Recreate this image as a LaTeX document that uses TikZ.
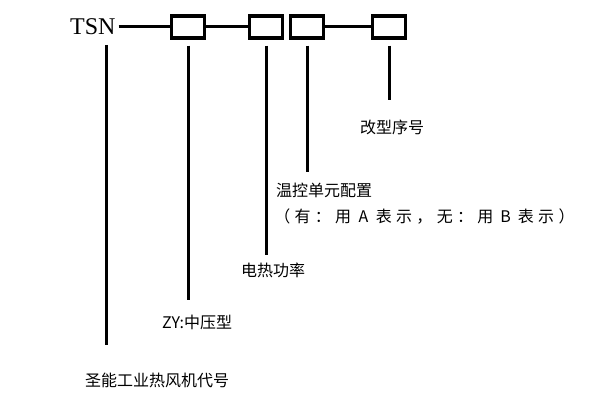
\documentclass[tikz,border=0pt]{standalone}
\usepackage{fontspec}
\newfontfamily\cjk{Noto Sans CJK SC}
\setmainfont{Liberation Serif}
\newcommand\fw[1]{\makebox[20.3pt]{#1}}
\begin{document}
\begin{tikzpicture}[x=1pt,y=-1pt,
  bx/.style={draw,line width=3.5pt,minimum width=33pt,minimum height=22pt,inner sep=0},
  ln/.style={line width=3pt},
  lab/.style={anchor=west,font=\cjk\fontsize{16}{18}\selectfont,inner sep=0}]
\useasboundingbox (0,0) rectangle (600,401);
\node[anchor=west,inner sep=0,font=\fontsize{24}{26}\selectfont] (tsn) at (70,27) {TSN};
\node[bx] (b1) at (188,27) {};
\node[bx] (b2) at (266,27) {};
\node[bx] (b3) at (307,27) {};
\node[bx] (b4) at (389,27) {};
\draw[ln] (tsn.east)++(3,0) coordinate (t0) -- (b1.west);
\draw[ln] (b1.east) -- (b2.west);
\draw[ln] (b3.east) -- (b4.west);
\coordinate (v0) at (106,45);
\draw[ln] (v0) -- (106,345);
\draw[ln] (b1.south)++(0,6) -- (188,300);
\draw[ln] (b2.south)++(0,6) -- (266,255);
\draw[ln] (b3.south)++(0,6) -- (307,172);
\draw[ln] (b4.south)++(0,6) -- (389,100);
\node[lab] (l4) at (360,127) {改型序号};
\node[lab] (l3) at (276,190) {温控单元配置};
\node[lab] (l3b) at (272,217) {\fw{（}\fw{有}\fw{：}\fw{用}\fw{A}\fw{表}\fw{示}\fw{，}\fw{无}\fw{：}\fw{用}\fw{B}\fw{表}\fw{示}\fw{）}};
\node[lab] (l2) at (241,270) {电热功率};
\node[lab] (l1) at (162,322) {ZY:中压型};
\node[lab] (l0) at (85,380) {圣能工业热风机代号};
\end{tikzpicture}
\end{document}
